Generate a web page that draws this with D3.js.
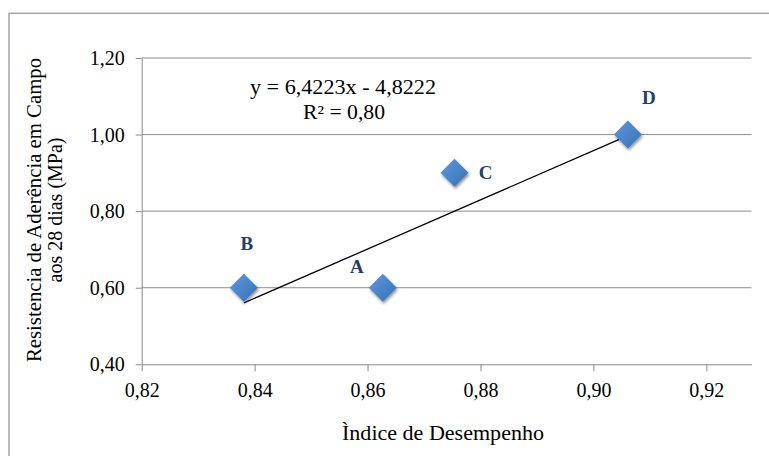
<!DOCTYPE html>
<html><head><meta charset="utf-8">
<script src="https://cdn.jsdelivr.net/npm/d3@7"></script>
<style>body{margin:0;background:#fff}svg{display:block}svg text{font-family:'Liberation Serif','DejaVu Serif',serif !important}</style>
</head><body>
<script>
const labels = ["A","B","C","D"];
const xValues = [0.8627, 0.8381, 0.8754, 0.9061];
const yValues = [0.60, 0.60, 0.90, 1.00];
const xTicks = [0.82, 0.84, 0.86, 0.88, 0.90, 0.92];
const yTicks = [0.40, 0.60, 0.80, 1.00, 1.20];
const slope = 6.4223, intercept = -4.8222;
const eqText = "y = 6,4223x - 4,8222";
const r2Text = "R² = 0,80";

const W = 769, H = 456;
const FF = "'Liberation Serif','DejaVu Serif',serif";
const svg = d3.select("body").append("svg").attr("width", W).attr("height", H);
const fmt = v => v.toFixed(2).replace(".", ",");

svg.append("rect").attr("x", 9).attr("y", 13.3).attr("width", W + 10).attr("height", H + 10)
  .attr("fill", "none").attr("stroke", "#a6a6a6").attr("stroke-width", 1.5);

const x = d3.scaleLinear().domain([0.82, 0.928]).range([141.7, 751.5]);
const y = d3.scaleLinear().domain([0.40, 1.20]).range([364.3, 58]);

const defs = svg.append("defs");
const g1 = defs.append("linearGradient").attr("id","dg").attr("x1","0").attr("y1","0").attr("x2","1").attr("y2","1");
g1.append("stop").attr("offset","0").attr("stop-color","#6099da");
g1.append("stop").attr("offset","1").attr("stop-color","#3470b8");
const f = defs.append("filter").attr("id","sh").attr("x","-50%").attr("y","-50%").attr("width","200%").attr("height","200%");
f.append("feGaussianBlur").attr("in","SourceAlpha").attr("stdDeviation",1.5).attr("result","b");
f.append("feOffset").attr("in","b").attr("dx",1).attr("dy",2).attr("result","o");
f.append("feComponentTransfer").attr("in","o").attr("result","o2").append("feFuncA").attr("type","linear").attr("slope",0.45);
const m = f.append("feMerge"); m.append("feMergeNode").attr("in","o2"); m.append("feMergeNode").attr("in","SourceGraphic");

svg.append("g").selectAll("line").data(yTicks.slice(1)).join("line")
  .attr("x1", x.range()[0]).attr("x2", x.range()[1])
  .attr("y1", d => y(d)).attr("y2", d => y(d))
  .attr("stroke", "#8c8c8c").attr("stroke-width", 1);

const xAxis = svg.append("g").attr("transform", `translate(0,${y(0.40)})`)
  .call(d3.axisBottom(x).tickValues(xTicks).tickFormat(fmt).tickSize(7).tickSizeOuter(0));
const yAxis = svg.append("g").attr("transform", `translate(${x(0.82)},0)`)
  .call(d3.axisLeft(y).tickValues(yTicks).tickFormat(fmt).tickSize(6).tickSizeOuter(0));
[xAxis, yAxis].forEach(a => {
  a.attr("font-family", FF).attr("font-size", 20);
  a.select(".domain").attr("stroke", "#8c8c8c");
  a.selectAll(".tick line").attr("stroke", "#8c8c8c");
  a.selectAll("text").attr("fill", "#000");
});
xAxis.selectAll("text").attr("y", 33).attr("dy", 0);
yAxis.selectAll("text").attr("x", -17).attr("dy", "0.33em");

const xMin = d3.min(xValues), xMax = d3.max(xValues);
svg.append("line")
  .attr("x1", x(xMin)).attr("y1", y(slope * xMin + intercept))
  .attr("x2", x(xMax)).attr("y2", y(slope * xMax + intercept))
  .attr("stroke", "#000").attr("stroke-width", 1.3);

const s = 14;
svg.append("g").selectAll("path").data(xValues).join("path")
  .attr("d", (d, i) => {
    const cx = x(d), cy = y(yValues[i]);
    return `M${cx},${cy - s}L${cx + s},${cy}L${cx},${cy + s}L${cx - s},${cy}Z`;
  })
  .attr("fill", "url(#dg)").attr("filter", "url(#sh)");

const offs = {A: [-26, -19], B: [3, -42], C: [31, 2], D: [21, -35]};
svg.append("g").selectAll("text").data(labels).join("text")
  .attr("x", (d, i) => x(xValues[i]) + offs[d][0])
  .attr("y", (d, i) => y(yValues[i]) + offs[d][1])
  .attr("text-anchor", "middle").attr("dominant-baseline", "middle")
  .attr("font-family", FF)
  .attr("font-size", 19).attr("font-weight", "bold").attr("fill", "#243f68")
  .text(d => d);

function txt(t, cx, by, len) {
  return svg.append("text").attr("x", cx - len / 2).attr("y", by)
    .attr("font-family", FF).attr("font-size", 20)
    .attr("textLength", len).attr("lengthAdjust", "spacingAndGlyphs").text(t);
}
txt(eqText, 343, 94, 186);
txt(r2Text, 344, 119, 82);
txt("Ìndice de Desempenho", 443, 440, 202);

const yt = svg.append("text").attr("transform", "translate(41,210) rotate(-90)")
  .attr("font-family", FF).attr("font-size", 20);
yt.append("tspan").attr("x", -152).attr("y", 0).attr("textLength", 304).attr("lengthAdjust", "spacingAndGlyphs")
  .text("Resistencia de Aderência em Campo");
yt.append("tspan").attr("x", 0).attr("y", 21).attr("text-anchor", "middle").text("aos 28 dias (MPa)");
</script>
</body></html>
